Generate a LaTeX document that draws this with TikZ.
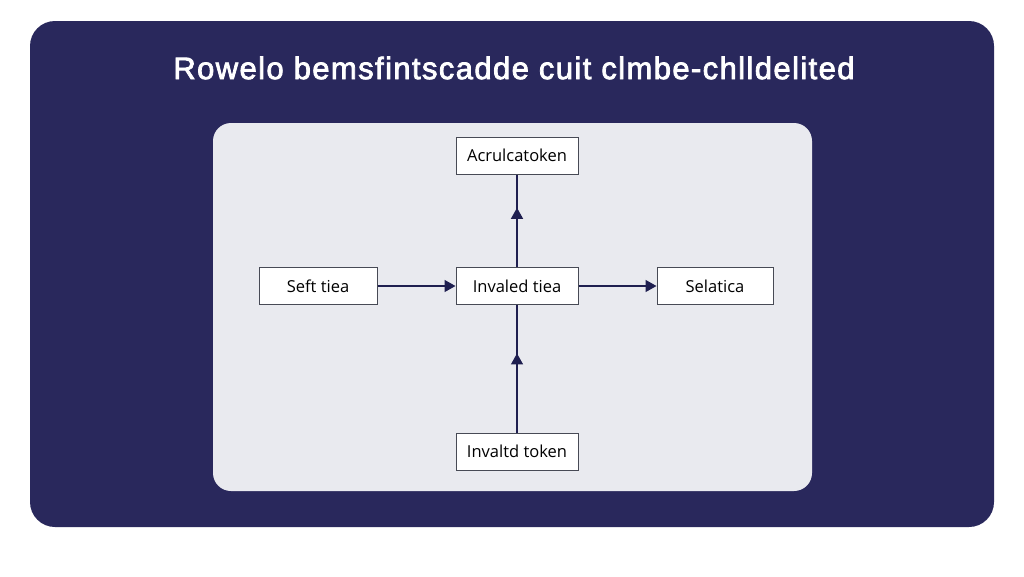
\documentclass[tikz,border=0pt]{standalone}
\usepackage{fontspec}
\setmainfont{Open Sans}
\newfontfamily\titlefont[LetterSpace=4.5,FakeBold=2.5]{Liberation Sans}
\usetikzlibrary{arrows.meta,decorations.markings}
\definecolor{navybg}{HTML}{29285C}
\definecolor{panelbg}{HTML}{E9EAEF}
\definecolor{linknavy}{HTML}{1F1F50}
\definecolor{boxedge}{HTML}{474A55}

\begin{document}
\begin{tikzpicture}[x=1pt,y=-1pt,
  tbox/.style={draw=boxedge,line width=1pt,fill=white,minimum height=37pt,inner sep=0pt,font=\fontsize{16.5}{19}\selectfont},
  link/.style={draw=linknavy,line width=1.4pt},
  endarrow/.style={link,-{Triangle[length=11pt,width=12pt]}},
  midarrow/.style={link,postaction={decorate},decoration={markings,mark=at position #1 with {\arrow{Triangle[length=11pt,width=12pt,fill=linknavy]}}}}]
\useasboundingbox (0,0) rectangle (1024,576);
\fill[white] (0,0) rectangle (1024,576);
\fill[navybg,rounded corners=25pt] (30,21) rectangle (994,527);
\node[font=\titlefont\fontsize{31}{35}\selectfont,text=white] (title) at (514,68) {Rowelo bemsfintscadde cuit clmbe-chlldelited};
\fill[panelbg,rounded corners=18pt] (213,123) rectangle (812,491);
% boxes
\node[tbox,minimum width=122pt] (acrul) at (517,155.5) {Acrulcatoken};
\node[tbox,minimum width=118pt] (seft) at (318,286) {Seft tiea};
\node[tbox,minimum width=122pt] (invaled) at (517,286) {Invaled tiea};
\node[tbox,minimum width=116pt] (selat) at (715,286) {Selatica};
\node[tbox,minimum width=122pt] (invaltd) at (517,451.5) {Invaltd token};
% connectors
\draw[endarrow] (seft) -- (invaled);
\draw[endarrow] (invaled) -- (selat);
\path[midarrow=0.64] (invaled) -- (acrul);
\path[midarrow=0.62] (invaltd) -- (invaled);
\end{tikzpicture}
\end{document}
